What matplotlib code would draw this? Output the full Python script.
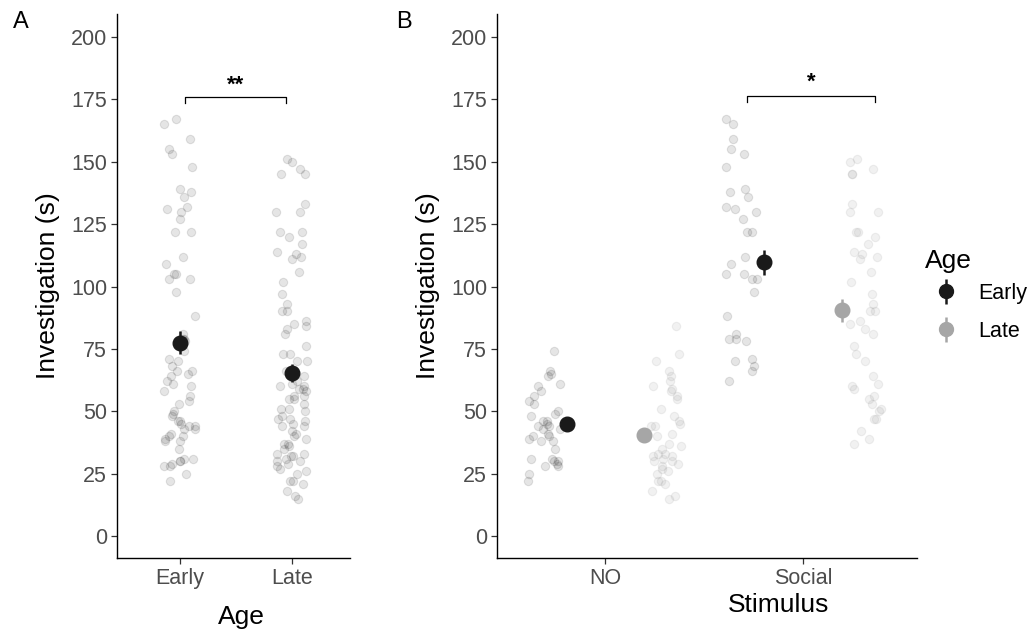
import numpy as np
import matplotlib.pyplot as plt
from matplotlib.lines import Line2D

plt.rcParams['font.family'] = ['Liberation Sans', 'DejaVu Sans']

# Investigation time (s) per animal, by age group and stimulus
ages = ['Early', 'Late']
stimuli = ['NO', 'Social']

early_no = [74, 66, 65, 64, 61, 60, 58, 56, 54, 53, 50, 49, 48, 46, 46, 45,
            44, 44, 43, 43, 41, 40, 40, 39, 38, 38, 35, 31, 31, 30, 30, 29,
            28, 28, 25, 22]
early_social = [167, 165, 159, 155, 153, 148, 139, 138, 136, 132, 131, 130,
                127, 122, 122, 112, 109, 105, 105, 103, 103, 98, 88, 81, 79,
                79, 78, 71, 70, 68, 66, 62]
late_no = [84, 73, 70, 66, 64, 62, 60, 59, 58, 56, 55, 51, 48, 46, 45, 44,
           44, 41, 40, 37, 36, 35, 33, 33, 32, 32, 31, 30, 30, 29, 28, 27,
           26, 25, 22, 22, 21, 18, 16, 15]
late_social = [151, 150, 147, 145, 145, 133, 130, 130, 122, 122, 120, 117,
               114, 113, 112, 111, 106, 102, 97, 93, 90, 90, 86, 85, 83, 81,
               76, 73, 70, 64, 61, 60, 59, 56, 55, 53, 51, 50, 47, 47, 42,
               39, 37]

# mean +/- SE
age_mean = [77.5, 65.3]
age_se = [4.5, 3.6]
early_mean = [45.0, 109.7]
early_se = [2.0, 5.0]
late_mean = [40.3, 90.4]
late_se = [2.0, 4.8]

dark = '#1a1a1a'
light = '#a6a6a6'
tick_col = '#4d4d4d'

rng = np.random.default_rng(7)

fig = plt.figure(figsize=(10.36, 6.31), dpi=100)
axA = fig.add_axes([0.1129, 0.1157, 0.225, 0.862])
axB = fig.add_axes([0.4797, 0.1157, 0.4054, 0.862])


def style(ax, xticks, xlabels, xlabel, label_xy):
    ax.set_ylim(-8.8, 209.2)
    ax.set_yticks(np.arange(0, 201, 25))
    ax.set_xticks(xticks)
    ax.set_xticklabels(xlabels)
    for s in ['top', 'right']:
        ax.spines[s].set_visible(False)
    for s in ['left', 'bottom']:
        ax.spines[s].set_linewidth(1.0)
        ax.spines[s].set_color('black')
    ax.tick_params(axis='both', length=4, width=0.9, color='#333333',
                   labelcolor=tick_col, labelsize=15.5, pad=3)
    ax.set_ylabel('Investigation (s)', fontsize=19, labelpad=8)
    ax.set_xlabel(xlabel, fontsize=19, va='center')
    ax.xaxis.set_label_coords(*label_xy)


# Panel A: pooled over stimulus
pooled = [early_no + early_social, late_no + late_social]
for i, vals in enumerate(pooled):
    x = (i + 1) + rng.uniform(-0.14, 0.14, len(vals))
    axA.scatter(x, vals, s=36, color='black', alpha=0.1, linewidths=0.8,
                zorder=2)
axA.errorbar([1, 2], age_mean, yerr=age_se, fmt='o', color=dark,
             markersize=10.5, elinewidth=1.8, capsize=0, zorder=3)
axA.set_xlim(0.44, 2.52)
style(axA, [1, 2], ages, 'Age', (0.532, -0.108))

# significance bracket
axA.plot([1.05, 1.05, 1.95, 1.95], [173.5, 176, 176, 173.5], color='black',
         lw=0.9, clip_on=False)
axA.text(1.5, 176.5, '**', ha='center', va='bottom', fontsize=16,
         fontweight='bold')

# Panel B: split by stimulus, dodged by age
groups = [(early_no, early_social, 'black', 0.1, -1),
          (late_no, late_social, '#8c8c8c', 0.12, 1)]
for v_no, v_soc, col, a, side in groups:
    for j, vals in enumerate([v_no, v_soc]):
        x = (j + 1) + side * 0.31 + rng.uniform(-0.085, 0.085, len(vals))
        axB.scatter(x, vals, s=36, color=col, alpha=a, linewidths=0.8,
                    zorder=2)
pos = np.array([1, 2])
axB.errorbar(pos - 0.196, early_mean, yerr=early_se, fmt='o', color=dark,
             markersize=10.5, elinewidth=1.8, capsize=0, zorder=3)
axB.errorbar(pos + 0.196, late_mean, yerr=late_se, fmt='o', color=light,
             markersize=10.5, elinewidth=1.8, capsize=0, zorder=3)
axB.set_xlim(0.452, 2.577)
style(axB, [1, 2], stimuli, 'Stimulus', (0.671, -0.086))

axB.plot([1.717, 1.717, 2.364, 2.364], [174, 176.5, 176.5, 174],
         color='black', lw=0.9, clip_on=False)
axB.text(2.04, 177.5, '*', ha='center', va='bottom', fontsize=16,
         fontweight='bold')

# legend
handles = [(Line2D([], [], marker='|', markersize=18, markeredgewidth=1.8,
                   color=c, linestyle='none'),
            Line2D([], [], marker='o', markersize=10, color=c,
                   linestyle='none'))
           for c in [dark, light]]
fig.legend(handles, ages, loc='center left',
           bbox_to_anchor=(0.880, 0.505), frameon=False, fontsize=15.5,
           handletextpad=0.5, labelspacing=0.8, borderaxespad=0.2)
fig.text(0.893, 0.587, 'Age', fontsize=19, va='center', ha='left')

fig.text(0.0125, 0.965, 'A', fontsize=17, va='center', ha='left')
fig.text(0.382, 0.965, 'B', fontsize=17, va='center', ha='left')

fig.savefig('out.png', dpi=100)
